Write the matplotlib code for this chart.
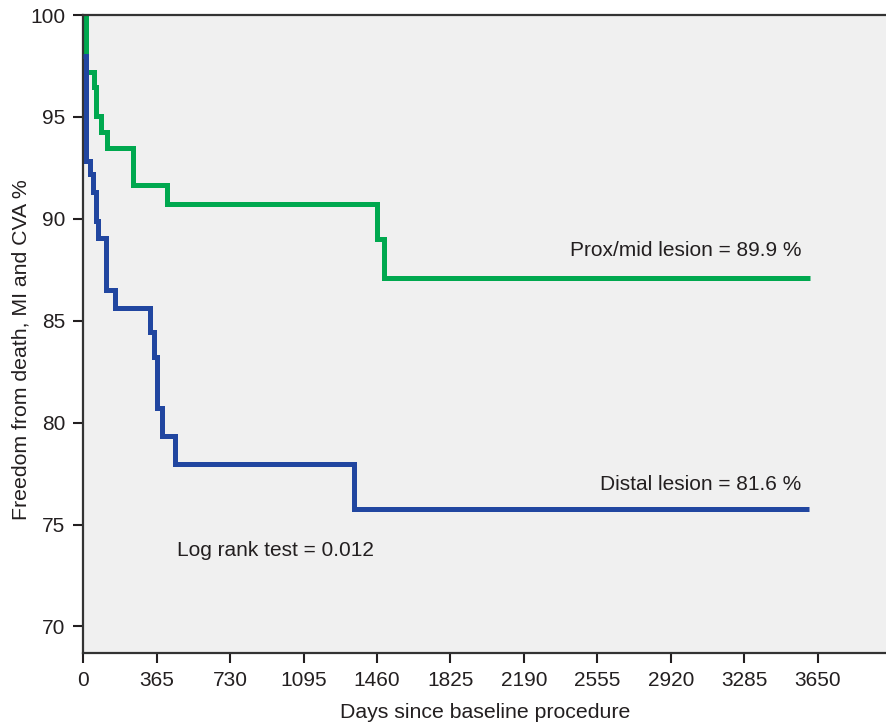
import matplotlib
matplotlib.use("Agg")
import matplotlib.pyplot as plt

plt.rcParams["font.family"] = ["Liberation Sans", "DejaVu Sans"]

# Kaplan-Meier steps (days, freedom from event %)
prox_days = [0, 12, 55, 63, 88, 119, 245, 417, 1461, 1497, 3611]
prox_surv = [100, 97.2, 96.45, 95.05, 94.25, 93.46, 91.67, 90.74, 88.99, 87.12, 87.12]

distal_days = [0, 12, 33, 50, 62, 72, 113, 157, 331, 352, 364, 389, 455, 1348, 3606]
distal_surv = [98.0, 92.85, 92.2, 91.3, 89.9, 89.05, 86.52, 85.62, 84.45, 83.22,
               80.72, 79.33, 77.99, 75.74, 75.74]

prox_label = "Prox/mid lesion = 89.9 %"
distal_label = "Distal lesion = 81.6 %"
logrank_label = "Log rank test = 0.012"

xticks = [0, 365, 730, 1095, 1460, 1825, 2190, 2555, 2920, 3285, 3650]
yticks = [70, 75, 80, 85, 90, 95, 100]

green = "#00a84f"
blue = "#2146a0"
ink = "#231f20"

fig = plt.figure(figsize=(8.87, 7.22), dpi=100)
ax = fig.add_axes([0.0939, 0.0956, 0.9061, 0.8836])
ax.set_facecolor("#f0f0f0")

ax.step(prox_days, prox_surv, where="post", color=green, lw=3.6,
        solid_joinstyle="miter", solid_capstyle="butt", zorder=2)
ax.step(distal_days, distal_surv, where="post", color=blue, lw=3.6,
        solid_joinstyle="miter", solid_capstyle="butt", zorder=3)

ax.set_xlim(0, 3995)
ax.set_ylim(68.7, 100)
ax.set_xticks(xticks)
ax.set_yticks(yticks)
ax.tick_params(direction="out", length=7, width=1.5, colors=ink,
               labelsize=15, pad=6)

for side in ["left", "bottom", "top"]:
    ax.spines[side].set_color("#333333")
    ax.spines[side].set_linewidth(1.6)
ax.spines["right"].set_visible(False)

ax.set_xlabel("Days since baseline procedure", fontsize=15.3, color=ink, labelpad=9)
ax.set_ylabel("Freedom from death, MI and CVA %", fontsize=15.3, color=ink, labelpad=-0.5)
ax.yaxis.label.set_y(0.476)

ax.text(2420, 88.45, prox_label, fontsize=15, color=ink, va="center", ha="left")
ax.text(2570, 76.95, distal_label, fontsize=15, color=ink, va="center", ha="left")
ax.text(465, 73.75, logrank_label, fontsize=15, color=ink, va="center", ha="left")

fig.savefig("out.png", dpi=100)
